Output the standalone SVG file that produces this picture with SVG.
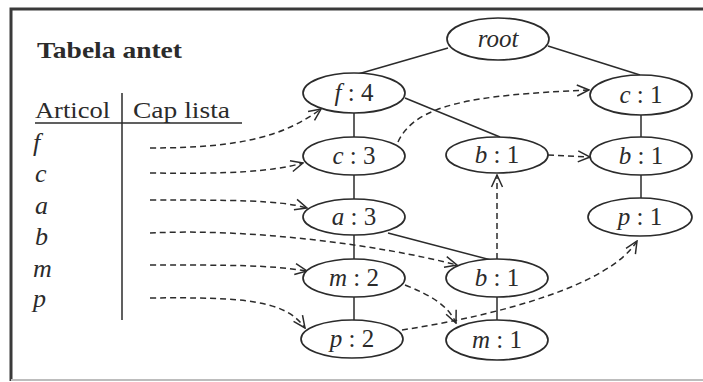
<svg xmlns="http://www.w3.org/2000/svg" width="703" height="382" viewBox="0 0 703 382">
<defs>
<marker id="arr" viewBox="0 0 14 14" refX="13" refY="7" markerWidth="14" markerHeight="14" markerUnits="userSpaceOnUse" orient="auto">
<path d="M1,1.5 L13,7 L1,12.5" fill="none" stroke="#2b2b2b" stroke-width="1.5"/>
</marker>
</defs>
<style>
.bg{fill:#ffffff}
.frame{fill:none;stroke:#3a3a3a;stroke-width:3}
.node{fill:#ffffff;stroke:#2b2b2b;stroke-width:1.7}
.edge{fill:none;stroke:#2b2b2b;stroke-width:1.5}
.dash{fill:none;stroke:#2b2b2b;stroke-width:1.5;stroke-dasharray:6,4;marker-end:url(#arr)}
.lbl{font-family:"Liberation Serif","Times New Roman",serif;font-size:25px;fill:#2b2b2b;text-anchor:middle}
.it{font-style:italic}
.hdr{font-family:"Liberation Serif","Times New Roman",serif;font-size:24px;fill:#2b2b2b}
.row{font-family:"Liberation Serif","Times New Roman",serif;font-size:26px;font-style:italic;fill:#2b2b2b}
</style>
<rect class="bg" x="0" y="0" width="703" height="382"/>
<path class="frame" d="M703,9 L11,9 L11,381"/>
<line x1="11" y1="380" x2="703" y2="380" stroke="#bdbdbd" stroke-width="2"/>

<g id="header-table">
<text class="hdr" x="37" y="58" font-weight="bold" textLength="145" lengthAdjust="spacingAndGlyphs">Tabela antet</text>
<text class="hdr" x="35" y="118" textLength="75" lengthAdjust="spacingAndGlyphs">Articol</text>
<text class="hdr" x="133" y="118" textLength="97" lengthAdjust="spacingAndGlyphs">Cap lista</text>
<line x1="35" y1="123" x2="242" y2="123" stroke="#2b2b2b" stroke-width="1.5"/>
<line x1="122" y1="93" x2="122" y2="320" stroke="#2b2b2b" stroke-width="1.5"/>
<text class="row" x="33" y="151">f</text>
<text class="row" x="35" y="182">c</text>
<text class="row" x="35" y="214">a</text>
<text class="row" x="35" y="245">b</text>
<text class="row" x="33" y="277">m</text>
<text class="row" x="33" y="307">p</text>
</g>

<g id="connectors">
<line class="edge" x1="448" y1="48" x2="358" y2="74"/>
<line class="edge" x1="548" y1="46" x2="640" y2="75"/>
<line class="edge" x1="354" y1="113" x2="354" y2="137"/>
<line class="edge" x1="405" y1="98" x2="500" y2="137"/>
<line class="edge" x1="354" y1="175" x2="354" y2="199"/>
<line class="edge" x1="354" y1="235" x2="354" y2="259"/>
<line class="edge" x1="388" y1="233" x2="491" y2="260"/>
<line class="edge" x1="354" y1="297" x2="354" y2="320"/>
<line class="edge" x1="497" y1="297" x2="497" y2="320"/>
<line class="edge" x1="641" y1="115" x2="641" y2="137"/>
<line class="edge" x1="641" y1="175" x2="641" y2="198"/>

<path class="dash" d="M150,148 C245,148 285,135 321,109"/>
<path class="dash" d="M150,173 C230,174 270,172 303,163"/>
<path class="dash" d="M150,200 C230,200 280,200 307,208"/>
<path class="dash" d="M150,233 C250,228 380,245 457,265"/>
<path class="dash" d="M150,265 C230,265 270,265 307,271"/>
<path class="dash" d="M150,298 C245,297 285,300 305,328"/>
<path class="dash" d="M398,142 C415,105 470,95 589,90"/>
<path class="dash" d="M548,155 L590,157"/>
<path class="dash" d="M497,259 L497,175"/>
<path class="dash" d="M405,285 C430,295 448,305 456,323"/>
<path class="dash" d="M402,330 C500,315 610,285 637,241"/>
</g>

<g id="node-root"><ellipse class="node" cx="498" cy="39" rx="51" ry="21"/><text class="lbl it" x="498" y="47">root</text></g>
<g id="node-f4"><ellipse class="node" cx="354" cy="93" rx="51" ry="20"/><text class="lbl" x="354" y="101"><tspan class="it">f</tspan> : 4</text></g>
<g id="node-c3"><ellipse class="node" cx="354" cy="156" rx="51" ry="19"/><text class="lbl" x="354" y="164"><tspan class="it">c</tspan> : 3</text></g>
<g id="node-a3"><ellipse class="node" cx="354" cy="217" rx="51" ry="18"/><text class="lbl" x="354" y="225"><tspan class="it">a</tspan> : 3</text></g>
<g id="node-m2"><ellipse class="node" cx="354" cy="278" rx="51" ry="19"/><text class="lbl" x="354" y="286"><tspan class="it">m</tspan> : 2</text></g>
<g id="node-p2"><ellipse class="node" cx="352" cy="339" rx="51" ry="19"/><text class="lbl" x="352" y="347"><tspan class="it">p</tspan> : 2</text></g>
<g id="node-b1-mid"><ellipse class="node" cx="497" cy="155" rx="51" ry="18"/><text class="lbl" x="497" y="163"><tspan class="it">b</tspan> : 1</text></g>
<g id="node-b1-low"><ellipse class="node" cx="497" cy="278" rx="51" ry="19"/><text class="lbl" x="497" y="286"><tspan class="it">b</tspan> : 1</text></g>
<g id="node-m1"><ellipse class="node" cx="497" cy="340" rx="51" ry="20"/><text class="lbl" x="497" y="348"><tspan class="it">m</tspan> : 1</text></g>
<g id="node-c1"><ellipse class="node" cx="641" cy="95" rx="51" ry="20"/><text class="lbl" x="641" y="103"><tspan class="it">c</tspan> : 1</text></g>
<g id="node-b1-right"><ellipse class="node" cx="641" cy="156" rx="51" ry="19"/><text class="lbl" x="641" y="164"><tspan class="it">b</tspan> : 1</text></g>
<g id="node-p1"><ellipse class="node" cx="640" cy="217" rx="52" ry="19"/><text class="lbl" x="640" y="225"><tspan class="it">p</tspan> : 1</text></g>
</svg>
